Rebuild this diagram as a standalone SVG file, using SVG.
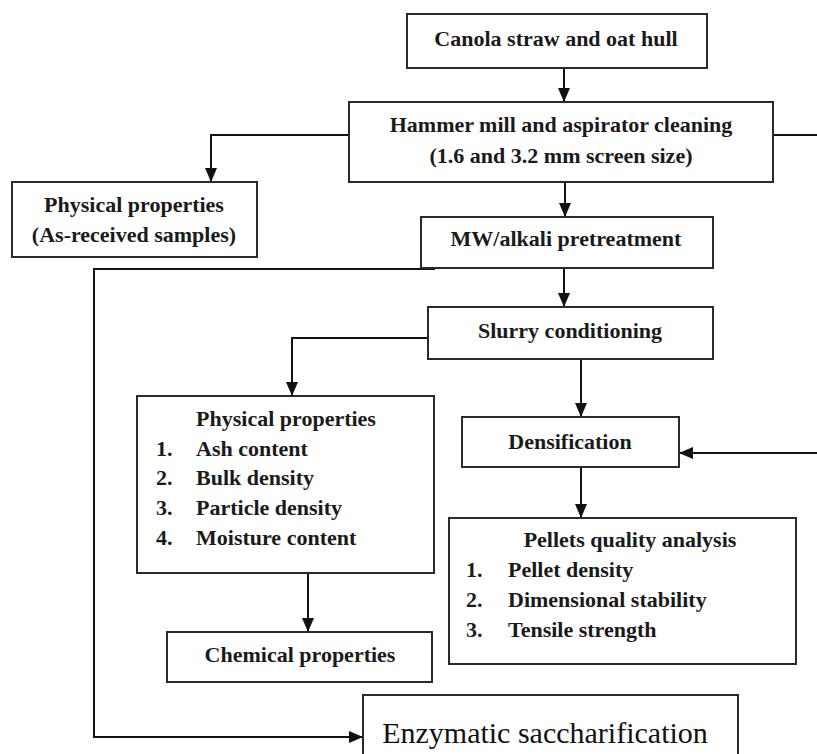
<svg xmlns="http://www.w3.org/2000/svg" width="817" height="754" viewBox="0 0 817 754">
<style>
.box{fill:#fff;stroke:#2a2a2a;stroke-width:2}
.t{font-family:"Liberation Serif","Times New Roman",serif;font-weight:bold;font-size:22px;fill:#1a1a1a}
.c{text-anchor:middle}
.big{font-family:"Liberation Serif","Times New Roman",serif;font-size:30px;fill:#111;text-anchor:middle}
.ln{fill:none;stroke:#111;stroke-width:2}
</style>
<defs>
<marker id="ah" viewBox="0 0 10 10" refX="10" refY="5" markerWidth="10" markerHeight="10" markerUnits="userSpaceOnUse" orient="auto">
<path d="M0,0 L10,5 L0,10 z" fill="#111"/>
</marker>
<marker id="ahl" viewBox="0 0 14 12" refX="14" refY="6" markerWidth="14" markerHeight="12" markerUnits="userSpaceOnUse" orient="auto">
<path d="M0,0 L14,6 L0,12 z" fill="#111"/>
</marker>
</defs>
<rect width="817" height="754" fill="#fff"/>
<g id="connectors">
<path class="ln" d="M564,68 V102" marker-end="url(#ahl)"/>
<path class="ln" d="M349,135 H211 V182" marker-end="url(#ahl)"/>
<path class="ln" d="M773,135 H817"/>
<path class="ln" d="M565,182 V217" marker-end="url(#ahl)"/>
<path class="ln" d="M564,268 V307" marker-end="url(#ahl)"/>
<path class="ln" d="M435,269 H94 V737 H363" marker-end="url(#ahl)"/>
<path class="ln" d="M428,338 H292 V396" marker-end="url(#ahl)"/>
<path class="ln" d="M581,359 V417" marker-end="url(#ahl)"/>
<path class="ln" d="M817,453 H679" marker-end="url(#ahl)"/>
<path class="ln" d="M581,467 V518" marker-end="url(#ahl)"/>
<path class="ln" d="M308,573 V632" marker-end="url(#ahl)"/>
</g>
<g id="canola">
<rect class="box" x="407" y="14" width="300" height="54"/>
<text class="t c" x="556" y="46">Canola straw and oat hull</text>
</g>
<g id="hammer">
<rect class="box" x="349" y="102" width="424" height="80"/>
<text class="t c" x="561" y="132">Hammer mill and aspirator cleaning</text>
<text class="t c" x="561" y="163">(1.6 and 3.2 mm screen size)</text>
</g>
<g id="physical1">
<rect class="box" x="12" y="182" width="245" height="75"/>
<text class="t c" x="134" y="212">Physical properties</text>
<text class="t c" x="134" y="242">(As-received samples)</text>
</g>
<g id="mw">
<rect class="box" x="421" y="217" width="292" height="51"/>
<text class="t c" x="566" y="246">MW/alkali pretreatment</text>
</g>
<g id="slurry">
<rect class="box" x="428" y="307" width="285" height="52"/>
<text class="t c" x="570" y="338">Slurry conditioning</text>
</g>
<g id="physical2">
<rect class="box" x="137" y="396" width="297" height="177"/>
<text class="t c" x="286" y="426">Physical properties</text>
<text class="t" x="156" y="456">1.</text><text class="t" x="196" y="456">Ash content</text>
<text class="t" x="156" y="485">2.</text><text class="t" x="196" y="485">Bulk density</text>
<text class="t" x="156" y="515">3.</text><text class="t" x="196" y="515">Particle density</text>
<text class="t" x="156" y="545">4.</text><text class="t" x="196" y="545">Moisture content</text>
</g>
<g id="densification">
<rect class="box" x="462" y="417" width="217" height="50"/>
<text class="t c" x="570" y="449">Densification</text>
</g>
<g id="pellets">
<rect class="box" x="449" y="518" width="347" height="146"/>
<text class="t c" x="630" y="547">Pellets quality analysis</text>
<text class="t" x="466" y="577">1.</text><text class="t" x="508" y="577">Pellet density</text>
<text class="t" x="466" y="607">2.</text><text class="t" x="508" y="607">Dimensional stability</text>
<text class="t" x="466" y="637">3.</text><text class="t" x="508" y="637">Tensile strength</text>
</g>
<g id="chemical">
<rect class="box" x="167" y="632" width="265" height="50"/>
<text class="t c" x="300" y="662">Chemical properties</text>
</g>
<g id="enzymatic">
<rect class="box" x="363" y="695" width="375" height="80"/>
<text class="big" x="545" y="743">Enzymatic saccharification</text>
</g>
</svg>
